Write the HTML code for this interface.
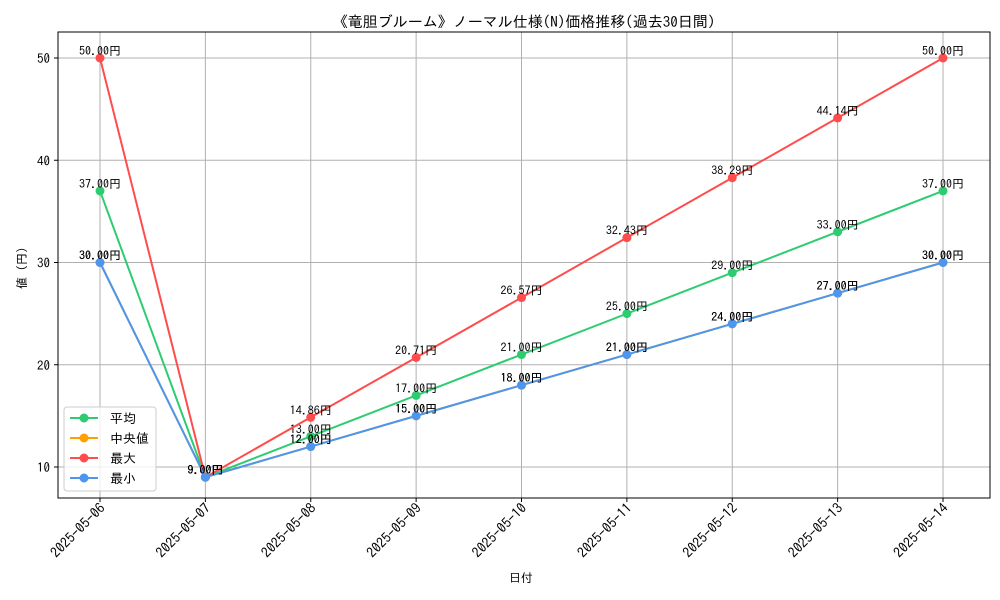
<!DOCTYPE html>
<html><head><meta charset="utf-8"><style>
body{margin:0;background:#fff}
svg{display:block;font-family:"IPAGothic","Liberation Sans","Noto Sans CJK JP",sans-serif}
</style></head><body>
<svg id="chart" width="1000" height="600" viewBox="0 0 1000 600" xmlns="http://www.w3.org/2000/svg">
<rect width="1000" height="600" fill="#fff"/>
<text x="524" y="27" font-size="15" text-anchor="middle">《竜胆ブルーム》ノーマル仕様(N)価格推移(過去30日間)</text>
<g id="grid"></g>
<g id="series"></g>
<rect x="58" y="32" width="932" height="466" fill="none" stroke="#000" stroke-width="1"/>
<g id="axes"></g>
<text x="521" y="582" font-size="12" text-anchor="middle">日付</text>
<text x="0" y="0" font-size="12" text-anchor="middle" transform="translate(26,265) rotate(-90)">値（円）</text>
<g id="legend"></g>
</svg>
<script>
const categories=["2025-05-06","2025-05-07","2025-05-08","2025-05-09","2025-05-10","2025-05-11","2025-05-12","2025-05-13","2025-05-14"];
const avgValues=[37,9,13,17,21,25,29,33,37];
const medianValues=[30,9,12,15,18,21,24,27,30];
const maxValues=[50,9,14.86,20.71,26.57,32.43,38.29,44.14,50];
const minValues=[30,9,12,15,18,21,24,27,30];
const yTicks=[10,20,30,40,50];
const seriesNames=["平均","中央値","最大","最小"];
const NS="http://www.w3.org/2000/svg";
function xs(i){return 100+i*(943-100)/(categories.length-1);}
function ys(v){return 467-(v-10)*(467-58)/40;}
function mk(tag,attrs,parent){const e=document.createElementNS(NS,tag);for(const k in attrs)e.setAttribute(k,attrs[k]);parent.appendChild(e);return e;}
const grid=document.getElementById('grid'),axes=document.getElementById('axes'),ser=document.getElementById('series'),leg=document.getElementById('legend');
categories.forEach((c,i)=>{
 const x=xs(i);
 const g=mk('line',{x1:x,x2:x,y1:32,y2:498,stroke:'#b0b0b0','stroke-width':1},grid);
 
 
 const t=mk('line',{x1:x,x2:x,y1:498,y2:502,stroke:'#000'},axes);
 
 
 const l=mk('text',{x:0,y:0,'font-size':14,'text-anchor':'end',transform:`translate(${x+6},${509}) rotate(-45)`},axes);
 l.textContent=c;
 
 
});
yTicks.forEach(v=>{
 const y=ys(v);
 const g=mk('line',{x1:58,x2:990,y1:y,y2:y,stroke:'#b0b0b0','stroke-width':1},grid);
 
 
 const t=mk('line',{x1:54,x2:58,y1:y,y2:y,stroke:'#000'},axes);
 
 
 const l=mk('text',{x:50,y:y+5,'font-size':13,'text-anchor':'end'},axes);
 l.textContent=v;
 
 
});
const all=[[avgValues,'#2ecc71'],[medianValues,'#ff9f00'],[maxValues,'#ff4c4c'],[minValues,'#4c96f0']];
all.forEach(([vals,col],si)=>{
 const g=mk('g',{},ser);
 
 
 const p=mk('polyline',{points:vals.map((v,i)=>xs(i)+','+ys(v)).join(' '),fill:'none',stroke:col,'stroke-width':2},g);
 
 
 vals.forEach((v,i)=>{
  const c=mk('circle',{cx:xs(i),cy:ys(v),r:4.5,fill:col},g);
  
  
  const t=mk('text',{x:xs(i),y:ys(v)-3,'font-size':12,'text-anchor':'middle'},g);
  t.textContent=v.toFixed(2)+'円';
  
  
 });
});
const box=mk('rect',{x:64,y:407,width:92,height:84,rx:3,fill:'#fff','fill-opacity':0.8,stroke:'#ccc'},leg);


all.forEach(([v,col],i)=>{
 const y=418+i*20;
 const g=mk('g',{},leg);
 
 
 mk('line',{x1:70,x2:98,y1:y,y2:y,stroke:col,'stroke-width':2},g);
 mk('circle',{cx:84,cy:y,r:4.5,fill:col},g);
 const t=mk('text',{x:110,y:y+5,'font-size':13},g);
 t.textContent=seriesNames[i];
});
</script>
</body></html>
